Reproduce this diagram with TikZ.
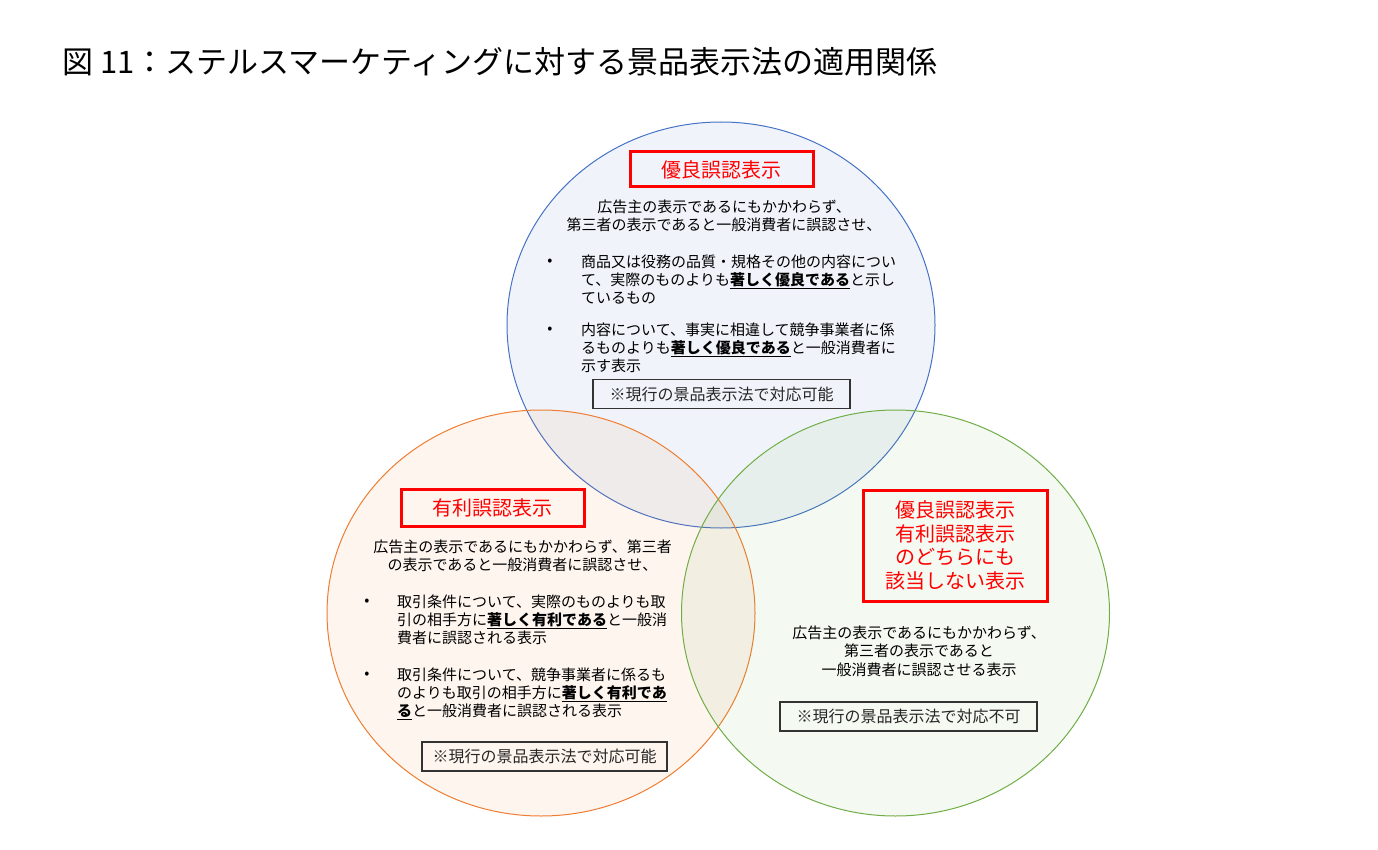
\documentclass[tikz,border=0pt]{standalone}
\usepackage{fontspec}
\setmainfont{Noto Sans CJK JP}
\usetikzlibrary{shapes.geometric}
\definecolor{vblue}{HTML}{4472C4}
\definecolor{vorange}{HTML}{ED7D31}
\definecolor{vgreen}{HTML}{70AD47}
\definecolor{vred}{HTML}{FF0000}
\newcommand{\strongul}[1]{\textbf{\underline{#1}}}

\begin{document}
\begin{tikzpicture}[x=1pt,y=-1pt,
  venn/.style={ellipse,draw=#1,fill=#1,fill opacity=0.08,line width=1pt,
    minimum width=428pt,minimum height=406pt,inner sep=0pt},
  redbox/.style={draw=vred,line width=3pt,text=vred,align=center,inner sep=0pt,
    font=\fontsize{20}{23.7}\selectfont},
  notebox/.style={draw=black!80,line width=1.1pt,text=black!85,inner sep=0pt,
    minimum width=257pt,minimum height=29pt,font=\fontsize{16}{18}\selectfont},
  body/.style={inner sep=0pt,font=\fontsize{15}{18}\selectfont},
  dot/.style={inner sep=0pt,font=\fontsize{15}{18}\selectfont}]
  \useasboundingbox (0,0) rectangle (1378,850);

  % title
  \node[anchor=west,inner sep=0pt,font=\fontsize{31}{36}\selectfont] (title) at (62,62)
    {図 11：ステルスマーケティングに対する景品表示法の適用関係};

  % the three circles
  \node[venn=vblue] (yuuryou) at (721,325) {};
  \node[venn=vorange] (yuuri) at (541,613) {};
  \node[venn=vgreen] (hoka) at (895.5,613) {};

  % upper circle
  \node[redbox,minimum width=183pt,minimum height=35pt] (yuuryouT) at (721.5,169.5) {優良誤認表示};
  \node[body,anchor=north,align=center] (yuuryouI) at (724,199.5)
    {広告主の表示であるにもかかわらず、\\第三者の表示であると一般消費者に誤認させ、};
  \node[dot] (yuuryouD1) at (550,262) {•};
  \node[body,anchor=north west,align=left] (yuuryouB1) at (581,254.5)
    {商品又は役務の品質・規格その他の内容につい\\て、実際のものよりも\strongul{著しく優良である}と示し\\ているもの};
  \node[dot] (yuuryouD2) at (550,330) {•};
  \node[body,anchor=north west,align=left] (yuuryouB2) at (581,322.5)
    {内容について、事実に相違して競争事業者に係\\るものよりも\strongul{著しく優良である}と一般消費者に\\示す表示};
  \node[notebox] (yuuryouN) at (721.5,394) {※現行の景品表示法で対応可能};

  % left circle
  \node[redbox,minimum width=183pt,minimum height=37pt] (yuuriT) at (492.5,507.5) {有利誤認表示};
  \node[body,anchor=north,align=center] (yuuriI) at (522.5,539.5)
    {広告主の表示であるにもかかわらず、第三者\\の表示であると一般消費者に誤認させ、};
  \node[dot] (yuuriD1) at (367,602) {•};
  \node[body,anchor=north west,align=left] (yuuriB1) at (397,594.5)
    {取引条件について、実際のものよりも取\\引の相手方に\strongul{著しく有利である}と一般消\\費者に誤認される表示};
  \node[dot] (yuuriD2) at (367,675) {•};
  \node[body,anchor=north west,align=left] (yuuriB2) at (397,667.5)
    {取引条件について、競争事業者に係るも\\のよりも取引の相手方に\strongul{著しく有利であ}\\\strongul{る}と一般消費者に誤認される表示};
  \node[notebox,minimum width=245pt] (yuuriN) at (544.5,756.5) {※現行の景品表示法で対応可能};

  % right circle
  \node[redbox,minimum width=184pt,minimum height=111pt] (hokaT) at (955,545.5)
    {優良誤認表示\\有利誤認表示\\のどちらにも\\該当しない表示};
  \node[body,anchor=north,align=center,font=\fontsize{15}{18.5}\selectfont] (hokaI) at (919,625.5)
    {広告主の表示であるにもかかわらず、\\第三者の表示であると\\一般消費者に誤認させる表示};
  \node[notebox] (hokaN) at (908.5,716.5) {※現行の景品表示法で対応不可};
\end{tikzpicture}
\end{document}
